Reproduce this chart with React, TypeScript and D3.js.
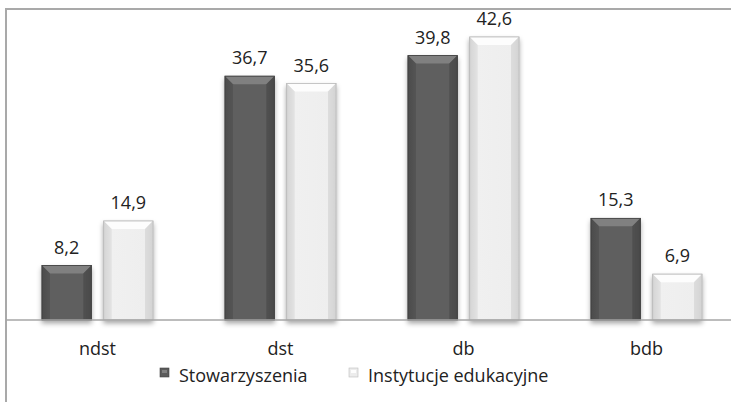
import React from "react";
import * as d3 from "d3";

const categories = ["ndst", "dst", "db", "bdb"];
const seriesNames = ["Stowarzyszenia", "Instytucje edukacyjne"];
const stowarzyszenia = [8.2, 36.7, 39.8, 15.3];
const instytucje = [14.9, 35.6, 42.6, 6.9];
const valueLabels = [
  ["8,2", "36,7", "39,8", "15,3"],
  ["14,9", "35,6", "42,6", "6,9"],
];

const W = 731;
const H = 402;
const FONT = "'Open Sans', 'DejaVu Sans', sans-serif";
const FS = 18;

const seriesStyle = [
  { fill: "#5b5b5b", bevel: "#808080", side: "#4a4a4a", edge: "#444" },
  { fill: "#ececec", bevel: "#fdfdfd", side: "#d4d4d4", edge: "#bdbdbd" },
];

export default function App() {
  const x0 = d3.scaleBand<string>().domain(categories).range([6, 738]);
  const x1 = d3
    .scaleBand<string>()
    .domain(seriesNames)
    .range([36, 147])
    .paddingInner(0.2);
  const y = d3.scaleLinear().domain([0, 42.6]).range([320, 37]);
  const data = [stowarzyszenia, instytucje];
  const bw = x1.bandwidth();
  const bev = 8;

  return (
    <svg
      width={W}
      height={H}
      style={{ position: "absolute", left: 0, top: 0, background: "#fff" }}
    >
      <defs>
        <filter id="sh" x="-20%" y="-20%" width="140%" height="140%">
          <feDropShadow dx="0" dy="3" stdDeviation="2.5" floodColor="#000" floodOpacity="0.35" />
        </filter>
        <linearGradient id="g0" x1="0" x2="1" y1="0" y2="0">
          <stop offset="0" stopColor="#4e4e4e" />
          <stop offset="0.15" stopColor="#5e5e5e" />
          <stop offset="0.85" stopColor="#5e5e5e" />
          <stop offset="1" stopColor="#4a4a4a" />
        </linearGradient>
        <linearGradient id="g1" x1="0" x2="1" y1="0" y2="0">
          <stop offset="0" stopColor="#d6d6d6" />
          <stop offset="0.15" stopColor="#f0f0f0" />
          <stop offset="0.85" stopColor="#eeeeee" />
          <stop offset="1" stopColor="#d2d2d2" />
        </linearGradient>
      </defs>
      {/* frame */}
      <line x1={6} x2={W} y1={9} y2={9} stroke="#a9a9a9" strokeWidth={2} />
      <line x1={6} x2={6} y1={8} y2={H} stroke="#a9a9a9" strokeWidth={2} />
      {/* bars */}
      {categories.map((c, ci) =>
        data.map((arr, si) => {
          const xb = (x0(c) as number) + (x1(seriesNames[si]) as number);
          const yt = y(arr[ci]);
          const yb = y(0);
          const st = seriesStyle[si];
          const b = Math.min(bev, (yb - yt) / 2);
          return (
            <g key={c + si}>
              <rect
                x={xb}
                y={yt}
                width={bw}
                height={yb - yt}
                fill={`url(#g${si})`}
                stroke={st.edge}
                strokeWidth={0.8}
                filter="url(#sh)"
              />
              <polygon
                points={`${xb},${yt} ${xb + bw},${yt} ${xb + bw - b},${yt + b} ${xb + b},${yt + b}`}
                fill={st.bevel}
              />
              <polygon
                points={`${xb},${yt} ${xb + b},${yt + b} ${xb + b},${yb} ${xb},${yb}`}
                fill={st.side}
                opacity={0.5}
              />
              <polygon
                points={`${xb + bw},${yt} ${xb + bw - b},${yt + b} ${xb + bw - b},${yb} ${xb + bw},${yb}`}
                fill={st.side}
                opacity={0.7}
              />
              <rect
                x={xb}
                y={yt}
                width={bw}
                height={yb - yt}
                fill="none"
                stroke={st.edge}
                strokeWidth={0.8}
              />
              <text
                x={xb + bw / 2}
                y={yt - 12}
                textAnchor="middle"
                fontFamily={FONT}
                fontSize={FS}
                fill="#222"
              >
                {valueLabels[si][ci]}
              </text>
            </g>
          );
        })
      )}
      {/* axis */}
      <line x1={6} x2={W} y1={y(0)} y2={y(0)} stroke="#a6a6a6" strokeWidth={1.5} />
      {categories.map((c) => (
        <text
          key={c}
          x={(x0(c) as number) + x0.bandwidth() / 2}
          y={355}
          textAnchor="middle"
          fontFamily={FONT}
          fontSize={FS}
          fill="#222"
        >
          {c}
        </text>
      ))}
      {/* legend */}
      {seriesNames.map((s, i) => {
        const lx = i === 0 ? 160 : 349;
        const st = seriesStyle[i];
        return (
          <g key={s}>
            <rect x={lx} y={368} width={9} height={9} fill={st.fill} stroke={st.edge} strokeWidth={0.6} />
            <rect x={lx + 2} y={370} width={5} height={3} fill={st.bevel} />
            <text
              x={i === 0 ? 179 : 368}
              y={382}
              fontFamily={FONT}
              fontSize={FS}
              fill="#222"
            >
              {s}
            </text>
          </g>
        );
      })}
    </svg>
  );
}
